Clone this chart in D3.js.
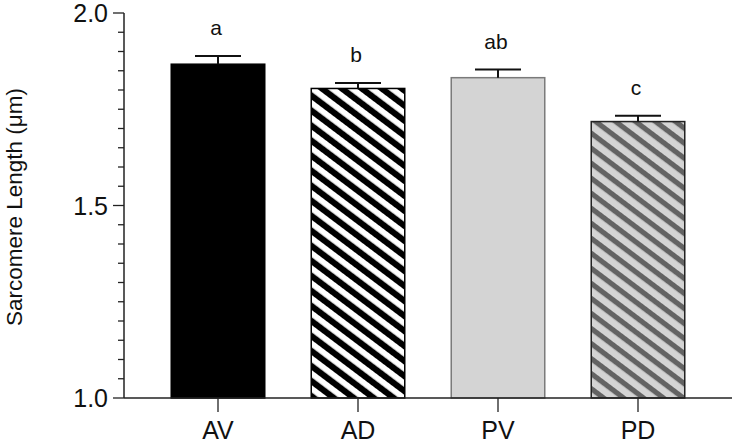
<!DOCTYPE html>
<html><head><meta charset="utf-8">
<script src="https://cdn.jsdelivr.net/npm/d3@7"></script>
<style>body{margin:0;background:#fff}svg{display:block}text{font-family:Arial,"Liberation Sans",sans-serif}</style>
</head><body>
<script>
const categories = ["AV","AD","PV","PD"];
const means = [1.867, 1.804, 1.832, 1.718];
const errors = [0.021, 0.014, 0.021, 0.015];
const letters = ["a","b","ab","c"];
const yTicks = [1.0, 1.5, 2.0];

const W = 735, H = 443;
const svg = d3.select("body").append("svg").attr("width", W).attr("height", H);
const defs = svg.append("defs");
function stripe(id, bg, fg, fgw, period, angle){
  const p = defs.append("pattern").attr("id", id).attr("patternUnits","userSpaceOnUse")
    .attr("width", 20).attr("height", period).attr("patternTransform", `rotate(${angle})`);
  p.append("rect").attr("width",20).attr("height",period).attr("fill",bg);
  p.append("rect").attr("width",20).attr("height",fgw).attr("fill",fg);
}
stripe("pAD", "#000", "#fff", 5.8, 12, 37);
stripe("pPD", "#d4d4d4", "#636363", 5.2, 12, 37);

const fills = ["#000", "url(#pAD)", "#d4d4d4", "url(#pPD)"];
const strokes = ["#000", "#000", "#7a7a7a", "#222"];

const axisX0 = 124, axisX1 = 732;
const y = d3.scaleLinear().domain([1.0, 2.0]).range([398, 13]);
const x = d3.scaleBand().domain(categories).range([148, 708]).paddingInner(0.332).paddingOuter(0.166);

// bars
svg.selectAll("rect.bar").data(categories).enter().append("rect")
  .attr("x", d => x(d)).attr("width", x.bandwidth())
  .attr("y", (d,i) => y(means[i])).attr("height", (d,i) => y(1.0) - y(means[i]))
  .attr("fill", (d,i) => fills[i]).attr("stroke", (d,i) => strokes[i]).attr("stroke-width", 1.5);

// error bars
const g = svg.append("g").attr("stroke", "#111").attr("stroke-width", 2);
categories.forEach((c,i) => {
  const cx = x(c) + x.bandwidth()/2;
  g.append("line").attr("x1", cx).attr("x2", cx).attr("y1", y(means[i])).attr("y2", y(means[i]+errors[i]));
  g.append("line").attr("x1", cx-23).attr("x2", cx+23).attr("y1", y(means[i]+errors[i])).attr("y2", y(means[i]+errors[i]));
  svg.append("text").attr("x", cx - 2).attr("y", y(means[i]+errors[i]) - 21)
    .attr("text-anchor","middle").attr("font-size", 21).attr("fill","#111").text(letters[i]);
});

// y axis
const yAxis = svg.append("g").attr("transform", `translate(${axisX0},0)`);
yAxis.append("line").attr("x1",0).attr("x2",0).attr("y1",y(2.0)).attr("y2",y(1.0)).attr("stroke","#222").attr("stroke-width",1.5);
const minor = d3.range(1.0, 2.0001, 0.05);
yAxis.selectAll("line.t").data(minor).enter().append("line")
  .attr("x1", d => (Math.abs(d*2 - Math.round(d*2)) < 1e-6) ? -11 : -6).attr("x2", 0)
  .attr("y1", d => y(d)).attr("y2", d => y(d)).attr("stroke","#222").attr("stroke-width",1.3);
yAxis.selectAll("text").data(yTicks).enter().append("text")
  .attr("x", -16).attr("y", d => y(d)).attr("dy","0.36em").attr("text-anchor","end")
  .attr("font-size", 25).attr("fill","#111").text(d => d3.format(".1f")(d));

// x axis
svg.append("line").attr("x1", axisX0).attr("x2", axisX1).attr("y1", 398).attr("y2", 398).attr("stroke","#222").attr("stroke-width",1.5);
categories.forEach(c => {
  const cx = x(c) + x.bandwidth()/2;
  svg.append("line").attr("x1",cx).attr("x2",cx).attr("y1",398).attr("y2",412).attr("stroke","#222").attr("stroke-width",1.3);
  svg.append("text").attr("x",cx).attr("y",439).attr("text-anchor","middle").attr("font-size",25).attr("fill","#111").text(c);
});

// y title
svg.append("text").attr("transform", `translate(22,207) rotate(-90)`).attr("text-anchor","middle")
  .attr("font-size", 22.5).attr("fill","#111").text("Sarcomere Length (μm)");
</script>
</body></html>
